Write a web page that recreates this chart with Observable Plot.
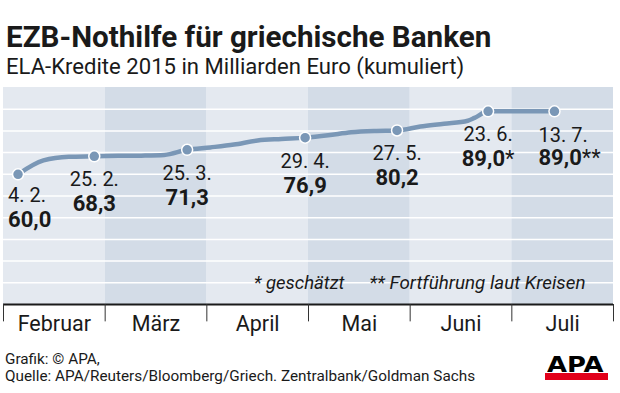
<!DOCTYPE html>
<html>
<head>
<meta charset="utf-8">
<script src="https://cdn.jsdelivr.net/npm/d3@7"></script>
<script src="https://cdn.jsdelivr.net/npm/@observablehq/plot@0.6"></script>
<style>
  body { margin: 0; background: #fff; }
  #wrap { position: relative; width: 620px; height: 393px; overflow: hidden; font-family: Roboto, sans-serif; color: #1a1a1a; }
  .abs { position: absolute; white-space: nowrap; line-height: 1; }
  #title { left: 6px; top: 23.1px; font-size: 29.6px; font-weight: 700; }
  #subtitle { left: 6px; top: 55.4px; font-size: 22.1px; font-weight: 400; }
  #chart { position: absolute; left: 0; top: 80px; }
  #f1 { left: 5px; top: 352.1px; font-size: 15.3px; }
  #f2 { left: 5px; top: 369.1px; font-size: 15.3px; }
  #logoText { left: 547px; top: 355px; font-family: "DejaVu Sans", sans-serif; font-weight: 700; font-size: 21px; transform: scaleX(1.23); transform-origin: left top; color: #000; }
  #logoBar { position: absolute; left: 545px; top: 373px; width: 63px; height: 7px; background: #e2001a; }
</style>
</head>
<body>
<div id="wrap">
  <div id="title" class="abs">EZB-Nothilfe für griechische Banken</div>
  <div id="subtitle" class="abs">ELA-Kredite 2015 in Milliarden Euro (kumuliert)</div>
  <div id="chart"></div>
  <div id="f1" class="abs">Grafik: © APA,</div>
  <div id="f2" class="abs">Quelle: APA/Reuters/Bloomberg/Griech. Zentralbank/Goldman Sachs</div>
  <div id="logoBar"></div>
  <div id="logoText" class="abs">APA</div>
</div>
<script>
// ---- data ----
const months = ["Februar", "März", "April", "Mai", "Juni", "Juli"];
const monthEdges = [0, 1, 2, 3, 4, 5, 6];
const gridValues = [10, 20, 30, 40, 50, 60, 70, 80, 90];

const pointDates  = ["2015-02-04", "2015-02-25", "2015-03-25", "2015-04-29", "2015-05-27", "2015-06-23", "2015-07-13"];
const pointLabels = ["4. 2.", "25. 2.", "25. 3.", "29. 4.", "27. 5.", "23. 6.", "13. 7."];
const pointValues = [60.0, 68.3, 71.3, 76.9, 80.2, 89.0, 89.0];
const pointMarks  = ["", "", "", "", "", "*", "**"];

const lineDates = ["2015-02-04", "2015-02-11", "2015-02-18", "2015-02-25", "2015-03-04", "2015-03-11", "2015-03-18",
  "2015-03-25", "2015-04-01", "2015-04-08", "2015-04-15", "2015-04-22", "2015-04-29", "2015-05-06", "2015-05-13",
  "2015-05-20", "2015-05-27", "2015-06-03", "2015-06-10", "2015-06-17", "2015-06-19", "2015-06-23", "2015-07-13"];
const lineValues = [60.0, 66.4, 68.1, 68.3, 68.5, 68.6, 68.9,
  71.3, 72.4, 73.7, 75.6, 76.3, 76.9, 78.0, 79.4,
  80.0, 80.2, 82.0, 83.3, 84.7, 86.0, 89.0, 89.0];

const notes = ["* geschätzt", "** Fortführung laut Kreisen"];

// ---- helpers ----
function mpos(s) {
  const [y, m, d] = s.split("-").map(Number);
  const dim = new Date(Date.UTC(y, m, 0)).getUTCDate();
  return (m - 2) + d / dim;
}
const fmt = v => v.toFixed(1).replace(".", ",");

const points = pointDates.map((d, i) => ({x: mpos(d), v: pointValues[i], date: pointLabels[i], value: fmt(pointValues[i]) + pointMarks[i]}));
const line = lineDates.map((d, i) => ({x: mpos(d), v: lineValues[i]}));
const monthData = months.map((m, i) => ({name: m, i}));

const light = "#e4e9f0", dark = "#d3dce7", lineColor = "#7a97b6";

const chart = Plot.plot({
  width: 620,
  height: 260,
  marginTop: 7,
  marginBottom: 36,
  marginLeft: 3,
  marginRight: 7,
  style: {fontFamily: "Roboto, sans-serif", color: "#1a1a1a", background: "transparent", overflow: "visible"},
  x: {domain: [0, 6], axis: null},
  y: {domain: [0, 100], axis: null},
  marks: [
    Plot.rect(monthData.filter(d => d.i % 2 === 0), {x1: d => d.i, x2: d => d.i + 1, y1: 0, y2: 100, fill: light}),
    Plot.rect(monthData.filter(d => d.i % 2 === 1), {x1: d => d.i, x2: d => d.i + 1, y1: 0, y2: 100, fill: dark}),
    Plot.ruleY(gridValues, {stroke: "white", strokeWidth: 1.5}),
    Plot.text([notes[0]], {text: d => d, frameAnchor: "bottom-right", textAnchor: "end", lineAnchor: "bottom", dx: -269, dy: -16, fontSize: 18.5, fontStyle: "italic"}),
    Plot.text([notes[1]], {text: d => d, frameAnchor: "bottom-right", textAnchor: "end", lineAnchor: "bottom", dx: -28, dy: -16, fontSize: 18.8, fontStyle: "italic"}),
    Plot.line(line, {x: "x", y: "v", stroke: lineColor, strokeWidth: 4.5, curve: "monotone-x"}),
    Plot.dot(points, {x: "x", y: "v", r: 5.5, fill: lineColor, stroke: "white", strokeWidth: 1.5}),
    // labels: first point (left aligned)
    Plot.text(points.slice(0, 1), {x: "x", y: "v", text: "date", textAnchor: "start", lineAnchor: "bottom", dx: -10, dy: 28, fontSize: 20}),
    Plot.text(points.slice(0, 1), {x: "x", y: "v", text: "value", textAnchor: "start", lineAnchor: "bottom", dx: -10, dy: 53, fontSize: 22, fontWeight: "bold"}),
    // middle labels
    Plot.text(points.slice(1, 6), {x: "x", y: "v", text: "date", textAnchor: "middle", lineAnchor: "bottom", dy: 30, fontSize: 20}),
    Plot.text(points.slice(1, 6), {x: "x", y: "v", text: "value", textAnchor: "middle", lineAnchor: "bottom", dy: 55, fontSize: 22, fontWeight: "bold"}),
    // last point
    Plot.text(points.slice(6), {x: "x", y: "v", text: "date", textAnchor: "start", lineAnchor: "bottom", dx: -16, dy: 31, fontSize: 20}),
    Plot.text(points.slice(6), {x: "x", y: "v", text: "value", textAnchor: "start", lineAnchor: "bottom", dx: -16, dy: 54, fontSize: 22, fontWeight: "bold"}),
    // axis
    Plot.ruleY([0], {stroke: "#1a1a1a", strokeWidth: 2}),
    Plot.ruleX(monthEdges, {y1: 0, y2: -8, stroke: "#333", strokeWidth: 1}),
    Plot.text(monthData, {x: d => d.i + 0.5, y: 0, text: "name", textAnchor: "middle", lineAnchor: "bottom", dy: 26, fontSize: 21.5})
  ]
});

// regular-weight asterisks after bold values
chart.querySelectorAll("text").forEach(t => {
  const m = t.textContent.match(/^(\d+,\d)(\*+)$/);
  if (m) {
    t.textContent = m[1];
    const ts = document.createElementNS("http://www.w3.org/2000/svg", "tspan");
    ts.setAttribute("font-weight", "normal");
    ts.textContent = m[2];
    t.appendChild(ts);
  }
});

document.getElementById("chart").appendChild(chart);
</script>
</body>
</html>
